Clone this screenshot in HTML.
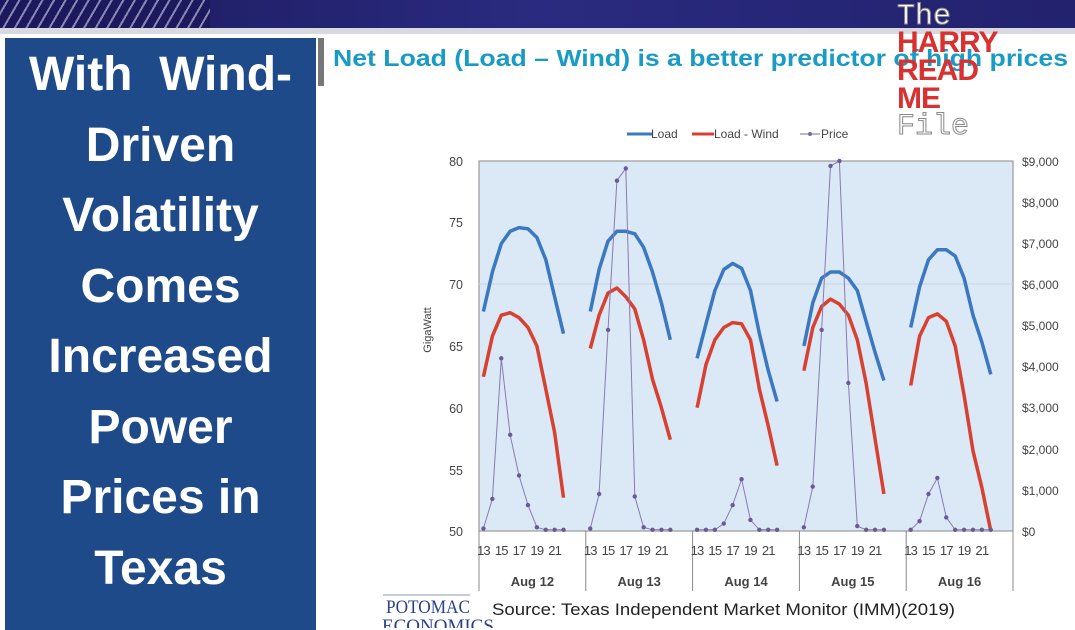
<!DOCTYPE html>
<html><head><meta charset="utf-8"><style>
body{margin:0;width:1075px;height:628px;overflow:hidden;background:#fff;font-family:"Liberation Sans",sans-serif;position:relative}
#top{position:absolute;left:0;top:0;width:1075px;height:28px;background:linear-gradient(90deg,#1c1a5c,#2a2a80 50%,#23226e)}
#stripes{position:absolute;left:0;top:0;width:210px;height:28px;background:repeating-linear-gradient(-60deg,#1c1a5c 0 8px,#8a86b8 8px 10px)}
#bar{position:absolute;left:0;top:28px;width:1075px;height:6px;background:#d8d8e0}
#left{position:absolute;left:5px;top:38px;width:311px;height:590px;background:#1e4a8a;color:#fff;font-weight:bold;font-size:48px;line-height:70.5px;text-align:center;padding-top:2px;white-space:nowrap}
#gray{position:absolute;left:318px;top:38px;width:6px;height:48px;background:#777}
#wm{position:absolute;left:897px;top:4px;font-family:"Liberation Mono",monospace;font-size:30px;line-height:26px;color:#fff;-webkit-text-stroke:1px #888}
#wm .r{color:#d93030;-webkit-text-stroke:0;font-family:"Liberation Sans",sans-serif;font-weight:bold;font-size:30px;letter-spacing:-1px}
</style></head><body>
<div id="top"><div id="stripes"></div></div><div id="bar"></div>
<div id="left">With &nbsp;Wind-<br>Driven<br>Volatility<br>Comes<br>Increased<br>Power<br>Prices in<br>Texas</div>
<div id="gray"></div>
<svg id="s" width="1075" height="628" style="position:absolute;left:0;top:0" font-family="Liberation Sans, sans-serif">
<text x="333" y="66" font-size="23" font-weight="bold" fill="#1a9bc4" textLength="735" lengthAdjust="spacingAndGlyphs">Net Load (Load – Wind) is a better predictor of high prices</text>
<rect x="479" y="161" width="534" height="370" fill="#dbe8f6" stroke="#999" stroke-width="1.2"/>
<line x1="479" y1="284" x2="1013" y2="284" stroke="#c8d4e2"/>
<g font-size="12.5" fill="#444" text-anchor="end">
<text x="463" y="166">80</text><text x="463" y="227">75</text><text x="463" y="289">70</text><text x="463" y="351">65</text><text x="463" y="413">60</text><text x="463" y="475">55</text><text x="463" y="536">50</text>
</g>
<g font-size="12" fill="#444" text-anchor="start">
<text x="1022" y="166">$9,000</text><text x="1022" y="207">$8,000</text><text x="1022" y="248">$7,000</text><text x="1022" y="289">$6,000</text><text x="1022" y="330">$5,000</text><text x="1022" y="371">$4,000</text><text x="1022" y="412">$3,000</text><text x="1022" y="454">$2,000</text><text x="1022" y="495">$1,000</text><text x="1022" y="536">$0</text>
</g>
<text x="431" y="330" font-size="11" fill="#444" transform="rotate(-90 431 330)" text-anchor="middle">GigaWatt</text>
<g font-size="12" fill="#444">
<line x1="627" y1="134" x2="652" y2="134" stroke="#3a78c0" stroke-width="3"/><text x="651" y="138">Load</text>
<line x1="692" y1="134" x2="714" y2="134" stroke="#d84030" stroke-width="3"/><text x="714" y="138">Load - Wind</text>
<line x1="800" y1="134" x2="820" y2="134" stroke="#7a6aa8" stroke-width="1"/><circle cx="810" cy="134" r="2" fill="#7a6aa8"/><text x="821" y="138">Price</text>
</g>
<g id="ax" stroke="#888" stroke-width="1"></g>
<g id="xl" font-size="13" fill="#444" letter-spacing="-0.8"></g>
<g id="ser"></g>
<text x="386" y="613" font-family="Liberation Serif, serif" font-size="19" fill="#2a3f8f" textLength="84" lengthAdjust="spacingAndGlyphs">POTOMAC</text>
<text x="382" y="632" font-family="Liberation Serif, serif" font-size="19" fill="#2a3f8f">ECONOMICS</text>
<line x1="383" y1="595" x2="470" y2="595" stroke="#8899bb"/>
<text x="492" y="615" font-size="17" fill="#222" textLength="463" lengthAdjust="spacingAndGlyphs">Source: Texas Independent Market Monitor (IMM)(2019)</text>
</svg>
<div id="wm">The<br><span class="r">HARRY<br>READ<br>ME</span><br>File</div>
<script>
var blue=[[67.8,71,73.3,74.3,74.6,74.5,73.8,72,69,66],[67.8,71.2,73.5,74.3,74.3,74.1,73,71,68.5,65.5],[64,66.8,69.5,71.2,71.7,71.3,69.5,66,63,60.5],[65,68.5,70.5,71,71,70.5,69.5,67,64.5,62.2],[66.5,69.8,72,72.8,72.8,72.3,70.5,67.5,65.3,62.7]];
var red=[[62.5,65.8,67.5,67.7,67.3,66.5,65,61.5,58,52.7],[64.8,67.5,69.3,69.7,69,68,65.5,62.3,60,57.4],[60,63.5,65.5,66.5,66.9,66.8,65.5,61.5,58.5,55.3],[63,66.5,68.2,68.8,68.4,67.5,65.5,62,57.5,53],[61.8,65.8,67.3,67.6,67,65,61,56.5,53.5,50]];
var pr=[[50.2,52.6,64,57.8,54.5,52.1,50.3,50.1,50.1,50.1],[50.2,53,66.3,78.4,79.4,52.8,50.3,50.1,50.1,50.1],[50.1,50.1,50.1,50.6,52.1,54.2,50.9,50.1,50.1,50.1],[50.3,53.6,66.3,79.6,80,62,50.4,50.1,50.1,50.1],[50.1,50.8,53,54.3,51.1,50.1,50.1,50.1,50.1,50.1]];
var L=479,W=106.8,sl=8.9;function Y(v){return 531-(v-50)*370/30}
var s="",ax="",xl="";
for(var d=0;d<5;d++){var x0=L+d*W;
 ax+='<line x1="'+x0+'" y1="531" x2="'+x0+'" y2="591"/>';
 [13,15,17,19,21].forEach(function(h,k){xl+='<text x="'+(x0+(2*k+0.5)*sl)+'" y="555" text-anchor="middle">'+h+'</text>'});
 xl+='<text x="'+(x0+W/2)+'" y="586" text-anchor="middle" font-weight="bold" letter-spacing="0">Aug '+(12+d)+'</text>';
 function pts(a){return a.map(function(v,i){return (x0+(i+0.5)*sl).toFixed(1)+','+Y(v).toFixed(1)}).join(' ')}
 s+='<polyline points="'+pts(blue[d])+'" fill="none" stroke="#3a78c0" stroke-width="3.5" stroke-linejoin="round"/>';
 s+='<polyline points="'+pts(red[d])+'" fill="none" stroke="#d84030" stroke-width="3.5" stroke-linejoin="round"/>';
 s+='<polyline points="'+pts(pr[d])+'" fill="none" stroke="#8a7ab0" stroke-width="1"/>';
 pr[d].forEach(function(v,i){s+='<circle cx="'+(x0+(i+0.5)*sl)+'" cy="'+Y(v)+'" r="2.2" fill="#6a5a98"/>'});
}
ax+='<line x1="1013" y1="531" x2="1013" y2="591"/>';
document.getElementById('ax').innerHTML=ax;document.getElementById('xl').innerHTML=xl;document.getElementById('ser').innerHTML=s;
</script>
</body></html>
